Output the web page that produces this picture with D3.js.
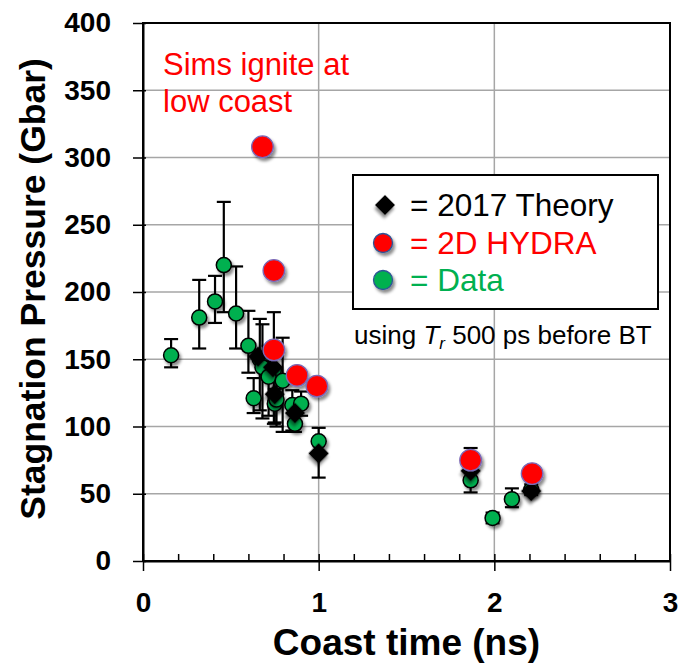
<!DOCTYPE html>
<html>
<head>
<meta charset="utf-8">
<script src="https://cdn.jsdelivr.net/npm/d3@7"></script>
<style>
  html, body { margin: 0; padding: 0; background: #fff; }
  svg { display: block; font-family: "Liberation Sans", Arial, sans-serif; }
</style>
</head>
<body>
<svg id="chart" width="679" height="665"></svg>
<script>
// ---- data ----
const xTicks = [0, 1, 2, 3];
const yTicks = [0, 50, 100, 150, 200, 250, 300, 350, 400];

// Data (green): [coast time, pressure, error low, error high]
const measured = [
  [0.16, 153, 144, 165],
  [0.32, 181, 158, 209],
  [0.41, 193, 177, 212],
  [0.46, 220, 185, 267],
  [0.53, 184, 158, 219],
  [0.60, 160, 140, 186],
  [0.63, 121, 110, 136],
  [0.665, 150, 112, 180],
  [0.68, 144, 106, 176],
  [0.745, 142, 102, 185],
  [0.715, 137, 108, 160],
  [0.795, 134, 96, 166],
  [0.75, 117, 103, 128],
  [0.76, 120, 100, 138],
  [0.85, 116, 97, 127],
  [0.90, 117, 108, 126],
  [0.865, 102, 96, 110],
  [1.00, 89, 62, 99],
  [1.865, 60, 51, 84],
  [1.99, 32, 28, 36],
  [2.10, 46, 40, 54],
  [2.21, 53, 49, 57]
];

// 2017 Theory (black diamonds)
const theory = [
  [0.655, 152], [0.74, 144], [0.75, 124], [0.865, 110],
  [1.00, 80], [1.865, 67], [2.21, 52]
];

// 2D HYDRA (red circles)
const hydra = [
  [0.68, 308], [0.745, 216], [0.745, 157], [0.877, 138],
  [0.99, 130], [1.865, 75], [2.215, 65]
];

const legendItems = ["= 2017 Theory", "= 2D HYDRA", "= Data"];

// ---- drawing ----
(function () {
const svg = d3.select("#chart");
const pL = 143, pR = 670, pT = 23, pB = 561;
const x = d3.scaleLinear().domain([0, 3]).range([pL, pR]);
const y = d3.scaleLinear().domain([0, 400]).range([pB, pT]);

const GREEN = "#00b050", RED = "#ff0000";

const defs = svg.append("defs");
const f = defs.append("filter").attr("id", "shadow")
  .attr("x", "-50%").attr("y", "-50%").attr("width", "200%").attr("height", "200%");
f.append("feDropShadow").attr("dx", 2).attr("dy", 3).attr("stdDeviation", 1.8)
  .attr("flood-color", "#000").attr("flood-opacity", 0.45);

// gridlines
const grid = svg.append("g");
grid.selectAll("line.h").data(yTicks.filter(d => d > 0 && d < 400)).join("line")
  .attr("x1", pL).attr("x2", pR).attr("y1", d => y(d)).attr("y2", d => y(d))
  .attr("stroke", "#a6a6a6").attr("stroke-width", 1.5);
grid.selectAll("line.v").data([1, 2]).join("line")
  .attr("y1", pT).attr("y2", pB).attr("x1", d => x(d)).attr("x2", d => x(d))
  .attr("stroke", "#a6a6a6").attr("stroke-width", 1.5);

// plot frame
svg.append("rect").attr("x", pL).attr("y", pT)
  .attr("width", pR - pL).attr("height", pB - pT)
  .attr("fill", "none").attr("stroke", "#000").attr("stroke-width", 2);

// y axis
const yAxis = svg.append("g").attr("transform", `translate(${pL},0)`)
  .call(d3.axisLeft(y).tickValues(yTicks).tickSize(10).tickPadding(22).tickSizeOuter(0));
yAxis.select(".domain").attr("stroke-width", 2);
yAxis.selectAll(".tick line").attr("stroke-width", 1.5).attr("x2", -10).attr("x1", 3);
yAxis.selectAll("text").attr("font-size", 28).attr("font-weight", "bold")
  .attr("font-family", "Liberation Sans, Arial, sans-serif").attr("fill", "#000");

// x minor ticks
const minor = d3.range(0.2, 3, 0.2).filter(d => Math.abs(d - Math.round(d)) > 1e-6);
svg.append("g").attr("transform", `translate(0,${pB})`)
  .call(d3.axisBottom(x).tickValues(minor).tickSize(-7).tickFormat("").tickSizeOuter(0))
  .call(g => g.select(".domain").remove())
  .selectAll(".tick line").attr("stroke-width", 1.5);

// x axis
const xAxis = svg.append("g").attr("transform", `translate(0,${pB})`)
  .call(d3.axisBottom(x).tickValues(xTicks).tickFormat(d3.format("d"))
    .tickSize(10).tickPadding(21).tickSizeOuter(0));
xAxis.select(".domain").attr("stroke-width", 2);
xAxis.selectAll(".tick line").attr("stroke-width", 1.5).attr("y1", -7);
xAxis.selectAll("text").attr("font-size", 28).attr("font-weight", "bold")
  .attr("font-family", "Liberation Sans, Arial, sans-serif").attr("fill", "#000");

// axis titles
svg.append("text").attr("x", (pL + pR) / 2).attr("y", 655)
  .attr("text-anchor", "middle").attr("font-size", 37).attr("font-weight", "bold")
  .text("Coast time (ns)");
svg.append("text").attr("transform", `translate(45,289) rotate(-90)`)
  .attr("text-anchor", "middle").attr("font-size", 35.5).attr("font-weight", "bold")
  .text("Stagnation Pressure (Gbar)");

// annotation
const ann = svg.append("text").attr("fill", RED).attr("font-size", 31);
ann.append("tspan").attr("x", 163).attr("y", 75).text("Sims ignite at");
ann.append("tspan").attr("x", 163).attr("y", 112).text("low coast");

// legend box
svg.append("rect").attr("x", 353).attr("y", 175).attr("width", 305).attr("height", 134)
  .attr("fill", "#fff").attr("stroke", "#000").attr("stroke-width", 2);

// note below legend
const note = svg.append("text").attr("x", 354).attr("y", 344).attr("font-size", 26).attr("fill", "#000");
note.append("tspan").text("using ");
note.append("tspan").attr("font-style", "italic").text("T");
note.append("tspan").attr("font-style", "italic").attr("font-size", 17).attr("dy", 5).text("r");
note.append("tspan").attr("dy", -5).text(" 500 ps before BT");

// error bars
const eb = svg.append("g").attr("stroke", "#000").attr("stroke-width", 2.2);
measured.forEach(d => {
  const cx = x(d[0]);
  eb.append("line").attr("x1", cx).attr("x2", cx).attr("y1", y(d[2])).attr("y2", y(d[3]));
  eb.append("line").attr("x1", cx - 7).attr("x2", cx + 7).attr("y1", y(d[2])).attr("y2", y(d[2]));
  eb.append("line").attr("x1", cx - 7).attr("x2", cx + 7).attr("y1", y(d[3])).attr("y2", y(d[3]));
});

// data points
svg.append("g").selectAll("circle").data(measured).join("circle")
  .attr("cx", d => x(d[0])).attr("cy", d => y(d[1])).attr("r", 7.5)
  .attr("fill", GREEN).attr("stroke", "#000").attr("stroke-width", 1.5)
  .attr("filter", "url(#shadow)");

// theory diamonds
const diamond = d3.symbol().type(d3.symbolSquare).size(210);
svg.append("g").selectAll("path").data(theory).join("path")
  .attr("d", diamond)
  .attr("transform", d => `translate(${x(d[0])},${y(d[1])}) rotate(45)`)
  .attr("fill", "#000").attr("filter", "url(#shadow)");

// hydra
svg.append("g").selectAll("circle").data(hydra).join("circle")
  .attr("cx", d => x(d[0])).attr("cy", d => y(d[1])).attr("r", 10.8)
  .attr("fill", RED).attr("stroke", "#7a6ab8").attr("stroke-width", 1.3)
  .attr("filter", "url(#shadow)");

// legend entries
const lg = svg.append("g");
const legY = [205, 243, 280];
const legColors = ["#000", RED, GREEN];
lg.append("path").attr("d", d3.symbol().type(d3.symbolSquare).size(200))
  .attr("transform", `translate(385,${legY[0]}) rotate(45)`).attr("fill", "#000")
  .attr("filter", "url(#shadow)");
lg.append("circle").attr("cx", 383).attr("cy", legY[1]).attr("r", 9.5)
  .attr("fill", RED).attr("stroke", "#2f5597").attr("stroke-width", 1.3).attr("filter", "url(#shadow)");
lg.append("circle").attr("cx", 383).attr("cy", legY[2]).attr("r", 9.5)
  .attr("fill", GREEN).attr("stroke", "#2f5597").attr("stroke-width", 1.3).attr("filter", "url(#shadow)");
lg.selectAll("text").data(legendItems).join("text")
  .attr("x", 410).attr("y", (d, i) => legY[i] + 11)
  .attr("font-size", 31.5).attr("fill", (d, i) => legColors[i]).text(d => d);
})();
</script>
</body>
</html>
